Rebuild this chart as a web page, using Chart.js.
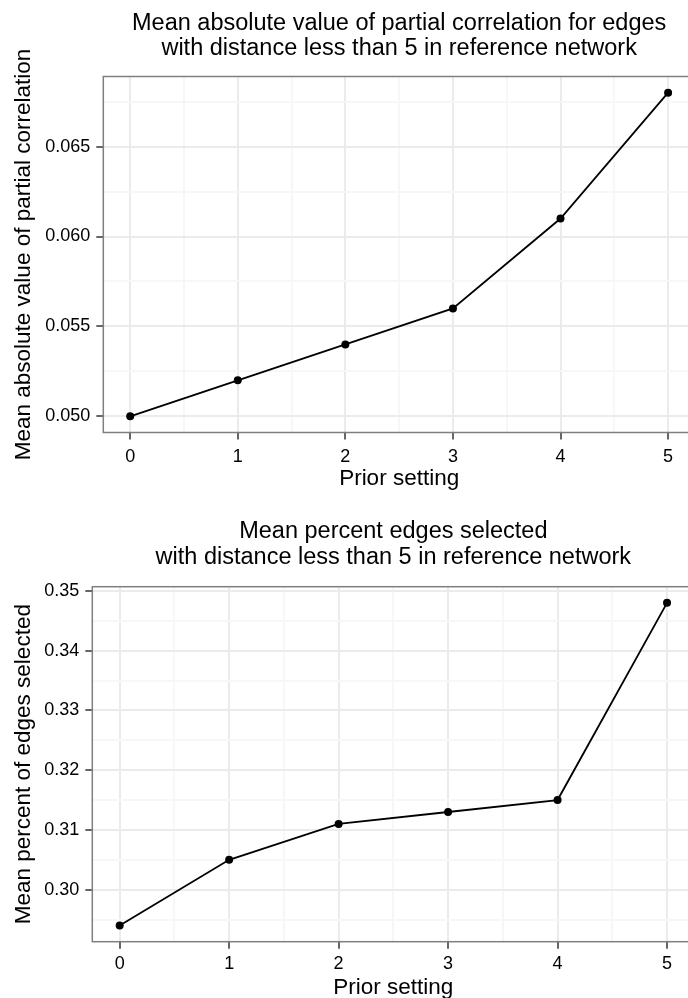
<!DOCTYPE html>
<html lang="en">
<head>
    <meta charset="UTF-8">
    <title>Prior setting plots</title>
    <script src="https://cdn.jsdelivr.net/npm/chart.js@4.4.0/dist/chart.umd.min.js"></script>
    <style>
        body {
            margin: 0;
            background: #ffffff;
            overflow: hidden;
        }
        .panel {
            position: absolute;
            left: 0;
            width: 700px;
        }
        #topPanel { top: 0; height: 500px; }
        #bottomPanel { top: 500px; height: 520px; }
    </style>
</head>
<body>
    <div class="panel" id="topPanel"><canvas id="corrChart"></canvas></div>
    <div class="panel" id="bottomPanel"><canvas id="pctChart"></canvas></div>

    <script>
        // values
        const priorSettings = [0, 1, 2, 3, 4, 5];
        const partialCorr = [0.050, 0.052, 0.054, 0.056, 0.061, 0.068];
        const pctSelected = [0.294, 0.305, 0.311, 0.313, 0.315, 0.348];

        const xTicks = [0, 1, 2, 3, 4, 5];
        const xMinor = [0.5, 1.5, 2.5, 3.5, 4.5];
        const corrTicks = [0.050, 0.055, 0.060, 0.065];
        const corrMinor = [0.0525, 0.0575, 0.0625, 0.0675];
        const pctTicks = [0.30, 0.31, 0.32, 0.33, 0.34, 0.35];
        const pctMinor = [0.295, 0.305, 0.315, 0.325, 0.335, 0.345];

        const FONT = "'Liberation Sans', Arial, Helvetica, sans-serif";

        function isIn(list, v) {
            return list.some(t => Math.abs(t - v) < 1e-9);
        }

        // full frame round the panel, like theme_bw
        const framePlugin = {
            id: 'frame',
            beforeDatasetsDraw(chart) {
                const a = chart.chartArea;
                const ctx = chart.ctx;
                ctx.save();
                ctx.strokeStyle = '#7f7f7f';
                ctx.lineWidth = 1.5;
                ctx.strokeRect(a.left, a.top, a.right - a.left, a.bottom - a.top);
                ctx.restore();
            }
        };

        function gridFor(major) {
            return {
                color: c => isIn(major, c.tick.value) ? '#ebebeb' : '#f7f7f7',
                lineWidth: 2,
                tickLength: 7,
                tickWidth: 1.5,
                tickColor: c => isIn(major, c.tick.value) ? '#333333' : 'rgba(0,0,0,0)'
            };
        }

        function makeChart(id, cfg) {
            new Chart(document.getElementById(id), {
                type: 'line',
                data: {
                    datasets: [{
                        data: priorSettings.map((x, i) => ({ x: x, y: cfg.values[i] })),
                        borderColor: '#000',
                        borderWidth: 1.8,
                        backgroundColor: '#000',
                        pointBackgroundColor: '#000',
                        pointBorderWidth: 0,
                        pointRadius: 4,
                        tension: 0,
                        clip: false
                    }]
                },
                options: {
                    responsive: true,
                    maintainAspectRatio: false,
                    animation: false,
                    layout: { padding: { left: 0, right: cfg.padRight, top: 0, bottom: 0 } },
                    plugins: {
                        legend: { display: false },
                        tooltip: { enabled: false },
                        title: {
                            display: true,
                            fullSize: false,
                            text: cfg.title,
                            color: '#000',
                            font: { family: FONT, size: 23.5, weight: 'normal', lineHeight: '25.5px' },
                            padding: { top: cfg.titleTop, bottom: cfg.titleBottom }
                        }
                    },
                    scales: {
                        x: {
                            type: 'linear',
                            min: -0.25,
                            max: 5.25,
                            afterBuildTicks: s => { s.ticks = xTicks.concat(xMinor).sort((a, b) => a - b).map(v => ({ value: v })); },
                            afterFit: s => { s.height = cfg.xHeight; },
                            ticks: {
                                autoSkip: false,
                                maxRotation: 0,
                                padding: cfg.xTickPad,
                                color: '#000',
                                font: { family: FONT, size: 18 },
                                callback: v => isIn(xTicks, v) ? String(v) : ''
                            },
                            grid: gridFor(xTicks),
                            border: { display: false },
                            title: {
                                display: true,
                                text: 'Prior setting',
                                color: '#000',
                                font: { family: FONT, size: 22.5, lineHeight: 1 },
                                padding: { top: 0, bottom: cfg.xTitleBottom }
                            }
                        },
                        y: {
                            type: 'linear',
                            min: cfg.yMin,
                            max: cfg.yMax,
                            afterBuildTicks: s => { s.ticks = cfg.yTicks.concat(cfg.yMinor).sort((a, b) => a - b).map(v => ({ value: v })); },
                            afterFit: s => { s.width = cfg.yWidth; },
                            ticks: {
                                autoSkip: false,
                                padding: 6,
                                color: '#000',
                                font: { family: FONT, size: 18 },
                                callback: v => isIn(cfg.yTicks, v) ? v.toFixed(cfg.digits) : ''
                            },
                            grid: gridFor(cfg.yTicks),
                            border: { display: false },
                            title: {
                                display: true,
                                text: cfg.yTitle,
                                color: '#000',
                                font: { family: FONT, size: 22.5, lineHeight: 1 },
                                padding: { top: 12.5, bottom: 0 }
                            }
                        }
                    }
                },
                plugins: [framePlugin]
            });
        }

        makeChart('corrChart', {
            values: partialCorr,
            title: ['Mean absolute value of partial correlation for edges', 'with distance less than 5 in reference network'],
            yTitle: 'Mean absolute value of partial correlation',
            yTicks: corrTicks,
            yMinor: corrMinor,
            yMin: 0.0491,
            yMax: 0.0689,
            digits: 3,
            padRight: 5,
            titleTop: 10.5,
            titleBottom: 15,
            yWidth: 103.3,
            xHeight: 67.5,
            xTickPad: 6.5,
            xTitleBottom: 9.5
        });

        makeChart('pctChart', {
            values: pctSelected,
            title: ['Mean percent edges selected', 'with distance less than 5 in reference network'],
            yTitle: 'Mean percent of edges selected',
            yTicks: pctTicks,
            yMinor: pctMinor,
            yMin: 0.2913,
            yMax: 0.3507,
            digits: 2,
            padRight: 5.6,
            titleTop: 19.25,
            titleBottom: 16.45,
            yWidth: 92.3,
            xHeight: 78.3,
            xTickPad: 5,
            xTitleBottom: 21
        });
    </script>
</body>
</html>
